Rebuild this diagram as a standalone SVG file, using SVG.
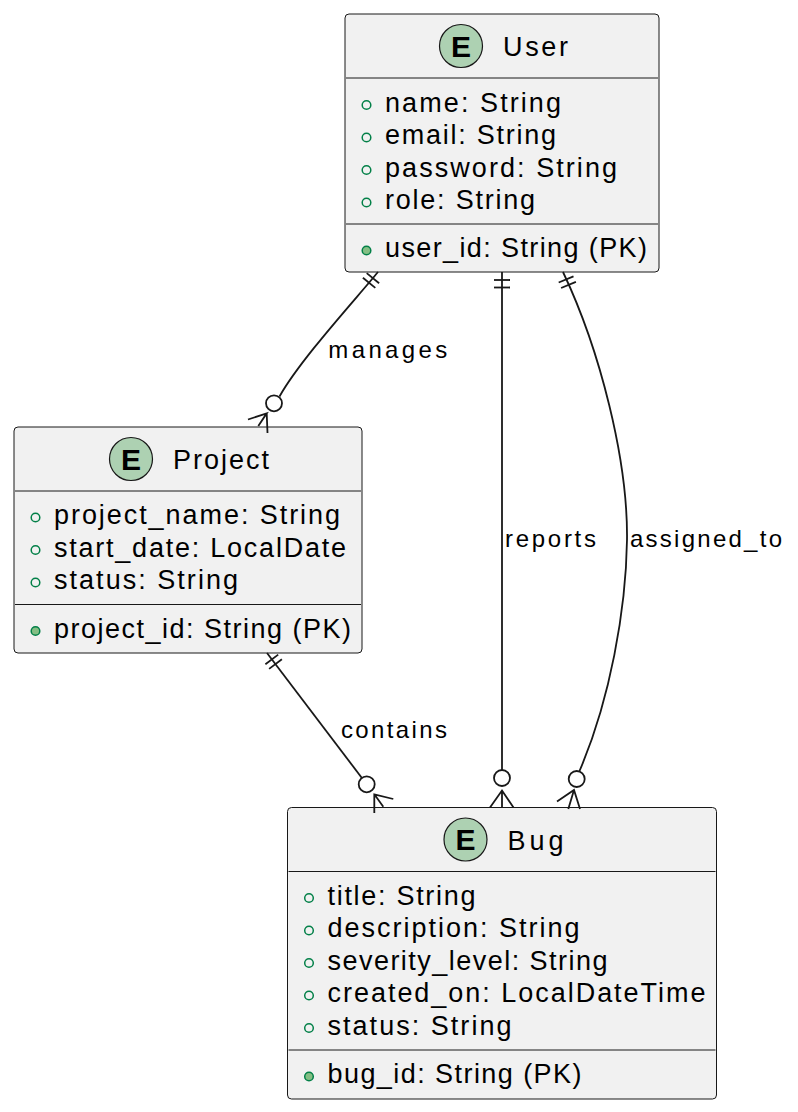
<svg xmlns="http://www.w3.org/2000/svg" width="798" height="1112" viewBox="0 0 798 1112">
<style>
.box{fill:#F1F1F1;stroke:#181818;stroke-width:1}
.sep{stroke:#181818;stroke-width:1}
.ec{fill:#ADD1B2;stroke:#181818;stroke-width:1.2}
.el{font-family:"Liberation Sans",Arial,sans-serif;font-weight:bold;font-size:30px;fill:#000;text-anchor:middle}
.t{font-family:"Liberation Sans",Arial,sans-serif;font-size:27px;fill:#000}
.lbl{font-family:"Liberation Sans",Arial,sans-serif;font-size:24px;fill:#000}
.pub{fill:none;stroke:#038048;stroke-width:1.5}
.pk{fill:#84BE84;stroke:#038048;stroke-width:1.5}
.ln{fill:none;stroke:#181818;stroke-width:1.8}
</style>
<rect width="798" height="1112" fill="#FFFFFF"/>
<g id="User">
<rect class="box" x="345" y="14" width="314" height="258" rx="4"/>
<circle class="ec" cx="461" cy="46" r="21.5"/>
<text class="el" x="461" y="56.5">E</text>
<text class="t" x="503" y="56" textLength="65" lengthAdjust="spacing">User</text>
<line class="sep" x1="346" y1="78" x2="658" y2="78"/>
<circle class="pub" cx="366.5" cy="105" r="4.3"/>
<text class="t" x="385" y="111.5" textLength="176" lengthAdjust="spacing">name: String</text>
<circle class="pub" cx="366.5" cy="137.5" r="4.3"/>
<text class="t" x="385" y="144" textLength="171" lengthAdjust="spacing">email: String</text>
<circle class="pub" cx="366.5" cy="170" r="4.3"/>
<text class="t" x="385" y="176.5" textLength="232" lengthAdjust="spacing">password: String</text>
<circle class="pub" cx="366.5" cy="202.5" r="4.3"/>
<text class="t" x="385" y="209" textLength="150" lengthAdjust="spacing">role: String</text>
<line class="sep" x1="346" y1="224" x2="658" y2="224"/>
<circle class="pk" cx="366.5" cy="250.5" r="4.3"/>
<text class="t" x="385" y="257" textLength="262" lengthAdjust="spacing">user_id: String (PK)</text>
</g>
<g id="Project">
<rect class="box" x="14" y="427" width="348" height="226" rx="4"/>
<circle class="ec" cx="131" cy="459" r="21.5"/>
<text class="el" x="131" y="469.5">E</text>
<text class="t" x="173" y="469" textLength="96" lengthAdjust="spacing">Project</text>
<line class="sep" x1="15" y1="491" x2="361" y2="491"/>
<circle class="pub" cx="35.5" cy="517.5" r="4.3"/>
<text class="t" x="54" y="524" textLength="286" lengthAdjust="spacing">project_name: String</text>
<circle class="pub" cx="35.5" cy="550" r="4.3"/>
<text class="t" x="54" y="556.5" textLength="292" lengthAdjust="spacing">start_date: LocalDate</text>
<circle class="pub" cx="35.5" cy="582.5" r="4.3"/>
<text class="t" x="54" y="589" textLength="184" lengthAdjust="spacing">status: String</text>
<line class="sep" x1="15" y1="604.5" x2="361" y2="604.5"/>
<circle class="pk" cx="35.5" cy="631" r="4.3"/>
<text class="t" x="54" y="637.5" textLength="297" lengthAdjust="spacing">project_id: String (PK)</text>
</g>
<g id="Bug">
<rect class="box" x="287.5" y="807.5" width="429" height="291.5" rx="4"/>
<circle class="ec" cx="465.5" cy="839.5" r="21.5"/>
<text class="el" x="465.5" y="850">E</text>
<text class="t" x="507.5" y="849.5" textLength="56" lengthAdjust="spacing">Bug</text>
<line class="sep" x1="288.5" y1="871.5" x2="715.5" y2="871.5"/>
<circle class="pub" cx="309" cy="898" r="4.3"/>
<text class="t" x="327.5" y="904.5" textLength="148" lengthAdjust="spacing">title: String</text>
<circle class="pub" cx="309" cy="930.5" r="4.3"/>
<text class="t" x="327.5" y="937" textLength="252" lengthAdjust="spacing">description: String</text>
<circle class="pub" cx="309" cy="963" r="4.3"/>
<text class="t" x="327.5" y="969.5" textLength="280" lengthAdjust="spacing">severity_level: String</text>
<circle class="pub" cx="309" cy="995.5" r="4.3"/>
<text class="t" x="327.5" y="1002" textLength="378" lengthAdjust="spacing">created_on: LocalDateTime</text>
<circle class="pub" cx="309" cy="1028" r="4.3"/>
<text class="t" x="327.5" y="1034.5" textLength="184" lengthAdjust="spacing">status: String</text>
<line class="sep" x1="288.5" y1="1050" x2="715.5" y2="1050"/>
<circle class="pk" cx="309" cy="1076.5" r="4.3"/>
<text class="t" x="327.5" y="1083" textLength="254" lengthAdjust="spacing">bug_id: String (PK)</text>
</g>
<g id="connectors">
<g id="manages">
<path class="ln" d="M378,272 C355,300 300,360 279.5,396.5"/>
<line class="ln" x1="366.7" y1="273.1" x2="379.1" y2="283.3"/>
<line class="ln" x1="362.9" y1="277.7" x2="375.3" y2="287.9"/>
<circle class="ln" cx="274" cy="403.3" r="8"/>
<path class="ln" d="M248,419.5 L266.7,413.3 L258.3,426 M266.7,413.3 L267.5,433"/>
<text class="lbl" x="328.3" y="358.3" textLength="119" lengthAdjust="spacing">manages</text>
</g>
<g id="reports">
<path class="ln" d="M502,272 L502,770"/>
<line class="ln" x1="494" y1="280" x2="510" y2="280"/>
<line class="ln" x1="494" y1="287.5" x2="510" y2="287.5"/>
<circle class="ln" cx="502" cy="778" r="8"/>
<path class="ln" d="M490,807.5 L502,790.5 L513.5,807.5 M502,790.5 L502,807.5"/>
<text class="lbl" x="505" y="546.7" textLength="91" lengthAdjust="spacing">reports</text>
</g>
<g id="assigned_to">
<path class="ln" d="M563,272 C600,350 628,460 627,540 C626,610 610,700 579.5,771"/>
<line class="ln" x1="558.7" y1="282.5" x2="573.5" y2="276.3"/>
<line class="ln" x1="561.1" y1="288" x2="575.9" y2="281.8"/>
<circle class="ln" cx="576.7" cy="779" r="8"/>
<path class="ln" d="M557,801.5 L574,790 L580,809 M574,790 L568.3,809"/>
<text class="lbl" x="630" y="546.7" textLength="152" lengthAdjust="spacing">assigned_to</text>
</g>
<g id="contains">
<path class="ln" d="M267,653 L361.9,778"/>
<line class="ln" x1="265.4" y1="664.2" x2="278.2" y2="654.6"/>
<line class="ln" x1="269.1" y1="668.9" x2="281.9" y2="659.3"/>
<circle class="ln" cx="366.7" cy="784.3" r="8"/>
<path class="ln" d="M374.3,813 L374.3,794.3 L393.3,799 M374.3,794.3 L383.3,806.7"/>
<text class="lbl" x="341" y="738.3" textLength="106" lengthAdjust="spacing">contains</text>
</g>
</g>
</svg>
